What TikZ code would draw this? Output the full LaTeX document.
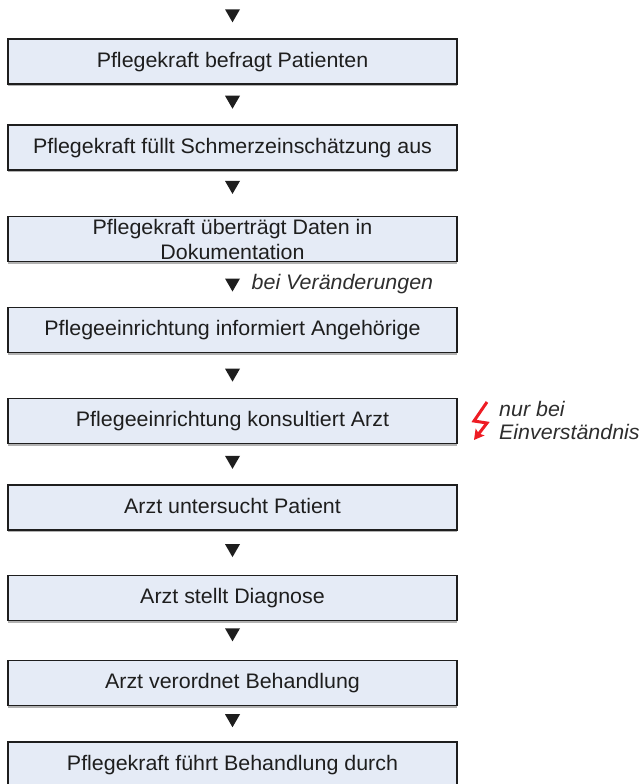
\documentclass[tikz,border=0pt]{standalone}
\usepackage{fontspec}
\setmainfont{Liberation Sans}[FakeStretch=1.02]
\usetikzlibrary{calc,arrows.meta}
\definecolor{boxfill}{HTML}{E5EBF6}
\definecolor{boltred}{HTML}{EE1C24}
\definecolor{ink}{HTML}{1E1E1E}
\definecolor{note}{HTML}{2E2E2E}
\tikzset{
  stepbox/.style={draw=ink, line width=1.4pt, fill=boxfill,
    preaction={fill=black!30, transform canvas={yshift=-2pt}},
    minimum width=449pt, minimum height=45pt, inner sep=0pt,
    text=ink, font=\fontsize{21}{23}\selectfont, align=center,
    text height=15pt, text depth=4pt},
  notetext/.style={font=\fontsize{21}{23}\selectfont\itshape, text=note,
    inner sep=0pt, align=left},
  flowtip/.pic={\fill[ink] (-7.5,-6) -- (7.5,-6) -- (0,7) -- cycle;},
  bolt/.style={draw=boltred, line width=3pt, line join=miter,
    -{Stealth[length=10pt,width=11pt,inset=2pt]}}
}
\begin{document}
\begin{tikzpicture}[x=1pt,y=-1pt]
\useasboundingbox (0,0) rectangle (639,784);

% process steps
\node[stepbox] (b1) at (232.5,61.5)  {Pflegekraft befragt Patienten};
\node[stepbox] (b2) at (232.5,147.5) {Pflegekraft füllt Schmerzeinschätzung aus};
\node[stepbox, text height=, text depth=] (b3) at (232.5,239)
  {\raisebox{2pt}{Pflegekraft überträgt Daten in}\\Dokumentation};
\node[stepbox] (b4) at (232.5,330)   {Pflegeeinrichtung informiert Angehörige};
\node[stepbox] (b5) at (232.5,421)   {Pflegeeinrichtung konsultiert Arzt};
\node[stepbox] (b6) at (232.5,507.5) {Arzt untersucht Patient};
\node[stepbox] (b7) at (232.5,598)   {Arzt stellt Diagnose};
\node[stepbox] (b8) at (232.5,683)   {Arzt verordnet Behandlung};
\node[stepbox] (b9) at (232.5,764.5) {Pflegekraft führt Behandlung durch};

% arrow tips between the steps
\coordinate (t1) at ($(b1.north)+(0,-23)$);
\coordinate (t2) at ($(b1.south)!0.43!(b2.north)$);
\coordinate (t3) at ($(b2.south)!0.36!(b3.north)$);
\coordinate (t4) at ($(b3.south)!0.50!(b4.north)$);
\coordinate (t5) at ($(b4.south)!0.48!(b5.north)$);
\coordinate (t6) at ($(b5.south)!0.44!(b6.north)$);
\coordinate (t7) at ($(b6.south)!0.44!(b7.north)$);
\coordinate (t8) at ($(b7.south)!0.34!(b8.north)$);
\coordinate (t9) at ($(b8.south)!0.40!(b9.north)$);
\foreach \t in {t1,t2,t3,t4,t5,t6,t7,t8,t9} \pic at (\t) {flowtip};

% conditions
\node[notetext, anchor=west] (cond) at ($(t4)+(19,0)$) {bei Veränderungen};
\node[notetext, anchor=west] (consent) at (499,420.5) {nur bei\\Einverständnis};

% lightning arrow
\draw[bolt] (487,402) -- (474,421) -- (487,423) -- (474,440);
\end{tikzpicture}
\end{document}
